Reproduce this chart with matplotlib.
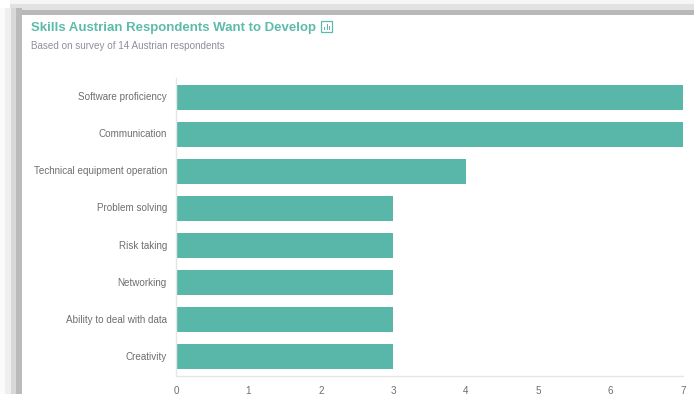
import matplotlib
matplotlib.use("Agg")
import matplotlib.pyplot as plt
from matplotlib.patches import Rectangle
from matplotlib.transforms import ScaledTranslation

categories = ["Software proficiency", "Communication", "Technical equipment operation",
              "Problem solving", "Risk taking", "Networking",
              "Ability to deal with data", "Creativity"]
values = [7, 7, 4, 3, 3, 3, 3, 3]
x_ticks = [0, 1, 2, 3, 4, 5, 6, 7]
title = "Skills Austrian Respondents Want to Develop"
subtitle = "Based on survey of 14 Austrian respondents"

W, H = 694, 400
TEAL = "#58B7A8"
plt.rcParams["font.family"] = ["Liberation Sans", "DejaVu Sans"]
fig = plt.figure(figsize=(W / 100, H / 100), dpi=100, facecolor="white")


def box(x0, y0, x1, y1, color, z=0):
    fig.add_artist(Rectangle((x0 / W, 1 - y1 / H), (x1 - x0) / W, (y1 - y0) / H,
                             transform=fig.transFigure, facecolor=color,
                             edgecolor="none", zorder=z))


# soft window shadow along the top and left edges
for (y0, y1, c) in [(0, 4, "#f6f6f6"), (4, 10, "#e2e2e2"), (10, 15, "#b8b8b8")]:
    box(10, y0, 694, y1, c)
for (x0, x1, c) in [(0, 5, "#fbfbfb"), (5, 11, "#efefef"), (11, 16, "#d8d8d8"), (16, 22, "#bbbbbb")]:
    box(x0, 8, x1, 394, c)
box(22, 15, 694, 400, "white", 1)

ax = fig.add_axes([176 / W, 1 - 376 / H, (683 - 176) / W, (376 - 78) / H], zorder=2)
ax.patch.set_alpha(0)
ax.barh(range(len(categories)), values, height=0.67, color=TEAL)
ax.set_xlim(0, 7)
ax.set_ylim(len(categories) - 0.5 + 0.02, -0.5 - 0.02)
ax.set_yticks(range(len(categories)), categories)
ax.set_xticks(x_ticks)
ax.tick_params(axis="both", length=0, labelsize=7.1, labelcolor="#6e6e6e")
ax.tick_params(axis="y", pad=6.5)
ax.tick_params(axis="x", pad=7)
up = ScaledTranslation(0, 1 / 100, fig.dpi_scale_trans)
for lab in ax.get_yticklabels():
    lab.set_transform(lab.get_transform() + up)
for s in ("top", "right"):
    ax.spines[s].set_visible(False)
for s in ("left", "bottom"):
    ax.spines[s].set_color("#e6e6e6")
    ax.spines[s].set_linewidth(1)

fig.text(31 / W, 1 - 28 / H, title, fontsize=9.5, fontweight="bold", color="#5CBBAB",
         va="center", ha="left", zorder=3)
fig.text(31 / W, 1 - 46 / H, subtitle, fontsize=7.1, color="#8f8f99",
         va="center", ha="left", zorder=3)

# small bar-chart icon next to the title
ix0, iy0, ix1, iy1 = 321, 21, 332, 32
fig.add_artist(Rectangle((ix0 / W, 1 - iy1 / H), (ix1 - ix0) / W, (iy1 - iy0) / H,
                         transform=fig.transFigure, facecolor="none",
                         edgecolor="#5CBBAB", linewidth=0.9, zorder=3))
for px, top in [(324, 27), (326.5, 24), (329, 26)]:
    box(px, top, px + 1, 30, "#5CBBAB", 3)

fig.savefig("out.png", dpi=100)
